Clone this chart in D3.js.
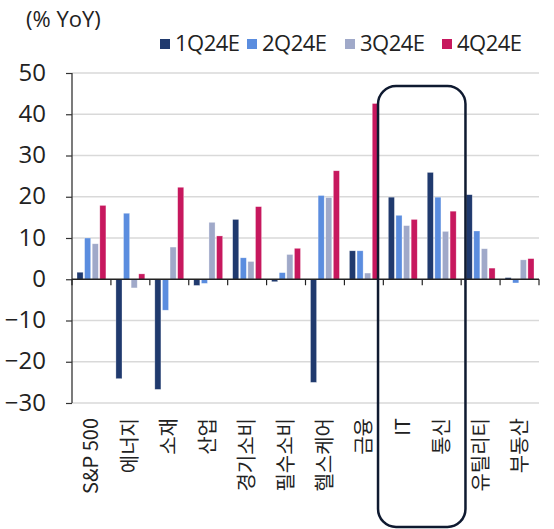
<!DOCTYPE html>
<html><head><meta charset="utf-8">
<script src="https://cdn.jsdelivr.net/npm/d3@7"></script>
<style>body{margin:0;background:#fff}svg{display:block}</style>
</head><body>
<svg id="c" width="554" height="529"></svg>
<script>
const categories = ["S&P 500","에너지","소재","산업","경기소비","필수소비","헬스케어","금융","IT","통신","유틸리티","부동산"];
const seriesNames = ["1Q24E","2Q24E","3Q24E","4Q24E"];
const q1 = [1.7, -24.1, -26.7, -1.5, 14.5, -0.6, -25.0, 6.9, 19.9, 25.9, 20.5, 0.4];
const q2 = [10.0, 16.0, -7.5, -1.0, 5.2, 1.6, 20.3, 6.9, 15.5, 19.9, 11.7, -0.9];
const q3 = [8.6, -2.1, 7.8, 13.8, 4.3, 6.0, 19.8, 1.5, 13.0, 11.6, 7.4, 4.7];
const q4 = [17.9, 1.3, 22.3, 10.5, 17.6, 7.5, 26.3, 42.6, 14.5, 16.5, 2.7, 5.0];
const yTicks = [50, 40, 30, 20, 10, 0, -10, -20, -30];
const colors = ["#203a6e", "#5b8ddf", "#a0a9c9", "#c7185e"];
const highlight = ["IT", "통신"];

const values = [q1, q2, q3, q4];
const svg = d3.select("#c");
const font = "'Noto Sans CJK KR', 'Noto Sans', sans-serif";
const numFont = "'Open Sans', 'Noto Sans', sans-serif";

const x0 = d3.scaleBand().domain(categories).range([72, 539]);
const x1 = d3.scaleBand().domain(seriesNames).range([5, x0.bandwidth() - 5]).paddingInner(0.2);
const y = d3.scaleLinear().domain([-30, 50]).range([403, 73]);

// gridlines
svg.append("g").selectAll("line").data(yTicks.filter(t => t !== 0)).join("line")
  .attr("x1", 72).attr("x2", 539).attr("y1", d => y(d)).attr("y2", d => y(d))
  .attr("stroke", "#d9d9d9").attr("stroke-width", 1.5);

// bars
const g = svg.append("g");
categories.forEach((c, i) => {
  seriesNames.forEach((s, j) => {
    const v = values[j][i];
    g.append("rect")
      .attr("x", x0(c) + x1(s))
      .attr("width", x1.bandwidth())
      .attr("y", y(Math.max(0, v)))
      .attr("height", Math.abs(y(v) - y(0)))
      .attr("fill", colors[j])
      .attr("stroke", "#fff").attr("stroke-opacity", 0.5).attr("stroke-width", 0.6);
  });
});

// y axis
const yAxis = d3.axisLeft(y).tickValues(yTicks).tickSize(6).tickFormat(d3.format("d"));
const ya = svg.append("g").attr("transform", "translate(72,0)").call(yAxis);
ya.select(".domain").attr("stroke", "#333").attr("stroke-width", 1.3).attr("d", "M0," + y(-30) + "V" + y(50));
ya.selectAll(".tick line").attr("stroke", "#333").attr("stroke-width", 1.2);
ya.selectAll(".tick text").attr("x", -26).attr("dy", "0.3em").attr("font-size", 24).attr("font-family", numFont).attr("fill", "#222");

// zero axis with category ticks
const xa = svg.append("g").attr("transform", "translate(0," + y(0) + ")");
xa.append("line").attr("x1", 72).attr("x2", 539).attr("stroke", "#222").attr("stroke-width", 1.5);
xa.selectAll(".ct").data(categories.concat(["_end"])).join("line")
  .attr("x1", (d, i) => i < categories.length ? x0(d) : 539)
  .attr("x2", (d, i) => i < categories.length ? x0(d) : 539)
  .attr("y1", 0).attr("y2", 6).attr("stroke", "#222").attr("stroke-width", 1.2);

// category labels
svg.append("g").selectAll("text").data(categories).join("text")
  .attr("transform", d => "translate(" + (x0(d) + x0.bandwidth() / 2 + 7) + ",418) rotate(-90)")
  .attr("text-anchor", "end")
  .attr("font-size", 20).attr("font-family", font).attr("fill", "#222")
  .text(d => d);

// highlight box
const hx0 = x0(highlight[0]) - 5.3, hx1 = x0(highlight[1]) + x0.bandwidth() + 4.3;
svg.append("rect").attr("x", hx0).attr("y", 86).attr("width", hx1 - hx0)
  .attr("height", 441).attr("rx", 18).attr("ry", 18)
  .attr("fill", "none").attr("stroke", "#0f1a30").attr("stroke-width", 2.5);

// unit label
svg.append("text").attr("x", 26).attr("y", 27).attr("font-size", 22).attr("font-family", numFont)
  .attr("fill", "#222").text("(% YoY)");

// legend
const legX = [160, 247, 345, 442];
const lg = svg.append("g").selectAll("g").data(seriesNames).join("g")
  .attr("transform", (d, i) => "translate(" + legX[i] + ",39)");
lg.append("rect").attr("width", 10).attr("height", 10).attr("fill", (d, i) => colors[i]);
lg.append("text").attr("x", 15).attr("y", 12).attr("font-size", 22)
  .attr("font-family", numFont).attr("fill", "#222").attr("letter-spacing", -0.5).text(d => d);
</script>
</body></html>
